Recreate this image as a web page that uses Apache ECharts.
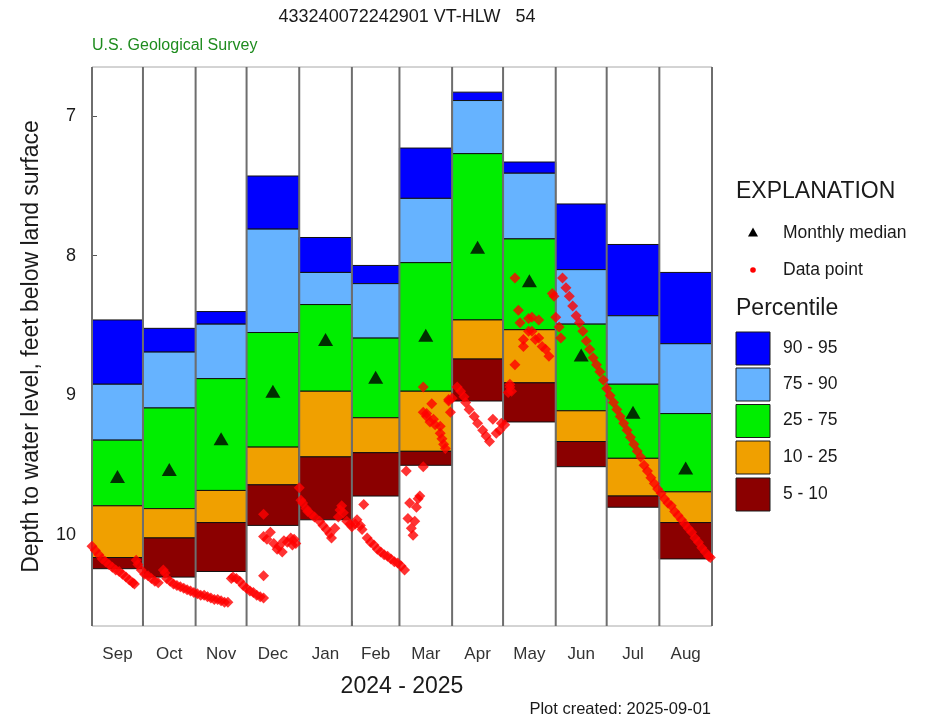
<!DOCTYPE html>
<html>
<head>
<meta charset="utf-8">
<script src="https://cdn.jsdelivr.net/npm/echarts@6/dist/echarts.min.js"></script>
<style>
  html, body { margin: 0; padding: 0; background: #ffffff; }
  #chart { width: 928px; height: 720px; }
</style>
</head>
<body>
<div id="chart"></div>
<script>
// Water year Sep 2024 - Aug 2025; x values are days since 2024-09-01.
const monthNames = ['Sep', 'Oct', 'Nov', 'Dec', 'Jan', 'Feb', 'Mar', 'Apr', 'May', 'Jun', 'Jul', 'Aug'];
const monthStartDay = [0, 30, 61, 91, 122, 153, 181, 212, 242, 273, 303, 334, 365];
const depthTicks = [7, 8, 9, 10];

// Historical monthly percentiles of depth to water (feet below land surface).
const p95 = [8.46, 8.52, 8.40, 7.43, 7.87, 8.07, 7.23, 6.83, 7.33, 7.63, 7.92, 8.12];
const p90 = [8.92, 8.69, 8.49, 7.81, 8.12, 8.20, 7.59, 6.89, 7.41, 8.10, 8.43, 8.63];
const p75 = [9.32, 9.09, 8.88, 8.55, 8.35, 8.59, 8.05, 7.27, 7.88, 8.49, 8.92, 9.13];
const p25 = [9.79, 9.81, 9.68, 9.37, 8.97, 9.16, 8.97, 8.46, 8.53, 9.11, 9.45, 9.69];
const p10 = [10.16, 10.02, 9.91, 9.64, 9.44, 9.41, 9.40, 8.74, 8.91, 9.33, 9.72, 9.91];
const p05 = [10.24, 10.30, 10.26, 9.93, 9.89, 9.72, 9.50, 9.04, 9.19, 9.51, 9.80, 10.17];
const monthlyMedian = [9.58, 9.53, 9.31, 8.97, 8.60, 8.87, 8.57, 7.94, 8.18, 8.71, 9.12, 9.52];

const bandLabels = ['90 - 95', '75 - 90', '25 - 75', '10 - 25', '5 - 10'];
const bandColors = ['#0000ff', '#66b3ff', '#00ee00', '#f0a000', '#8b0000'];

// Measured depth to water: [day since 2024-09-01, feet below land surface]
const waterLevelReadings = [
  [0, 10.08], [2, 10.11], [4, 10.14], [6, 10.17], [8, 10.19], [10, 10.21], [12, 10.23],
  [14, 10.25], [16, 10.26], [18, 10.28], [20, 10.30], [22, 10.32], [24, 10.34], [25, 10.35],
  [26, 10.18], [27, 10.21], [29, 10.25], [31, 10.28], [33, 10.29], [35, 10.31], [37, 10.33],
  [39, 10.34], [42, 10.25], [43, 10.27], [44, 10.31], [46, 10.33], [48, 10.35], [50, 10.36],
  [52, 10.37], [54, 10.38], [56, 10.39], [58, 10.40], [60, 10.41], [62, 10.42], [64, 10.43],
  [66, 10.43], [68, 10.44], [70, 10.45], [72, 10.46], [74, 10.46], [76, 10.47], [78, 10.48],
  [80, 10.48], [82, 10.31], [83, 10.30], [85, 10.31], [87, 10.33], [89, 10.36], [91, 10.38],
  [93, 10.40], [95, 10.41], [97, 10.43], [99, 10.44], [101, 10.45],
  [101, 9.85], [101, 10.29], [101, 10.01], [103, 10.03], [105, 9.98], [107, 10.06],
  [109, 10.10], [110, 10.08], [112, 10.12], [113, 10.04], [115, 10.05], [117, 10.02],
  [118, 10.07], [119, 10.03], [120, 10.06],
  [122, 9.66], [123, 9.75], [124, 9.77], [126, 9.81], [127, 9.83], [129, 9.85], [131, 9.87],
  [134, 9.90], [136, 9.93], [138, 9.96], [140, 9.99], [141, 10.02], [143, 9.95], [145, 9.87],
  [146, 9.82], [147, 9.79], [148, 9.84], [150, 9.90], [152, 9.92], [153, 9.94], [155, 9.92],
  [156, 9.89], [158, 9.93], [159, 9.96], [160, 9.78], [162, 10.02], [164, 10.05], [166, 10.07],
  [168, 10.10], [170, 10.12], [172, 10.14], [174, 10.15], [176, 10.17], [178, 10.19],
  [180, 10.20], [182, 10.22], [184, 10.25],
  [185, 9.54], [186, 9.88], [187, 9.77], [188, 9.95], [189, 10.00], [190, 9.90], [191, 9.80],
  [192, 9.74], [193, 9.72], [195, 9.51], [195, 8.94], [195, 9.12], [197, 9.13], [197, 9.15],
  [199, 9.19], [200, 9.06], [201, 9.17], [202, 9.21], [205, 9.22], [205, 9.27], [206, 9.31],
  [207, 9.35], [208, 9.38], [210, 9.03], [210, 9.04], [211, 9.12],
  [212, 9.02], [215, 8.94], [217, 8.97], [219, 9.01], [220, 9.05], [222, 9.10], [225, 9.15],
  [227, 9.20], [230, 9.25], [232, 9.29], [234, 9.33], [236, 9.17], [238, 9.27], [240, 9.25],
  [241, 9.20], [243, 9.21],
  [245, 8.98], [246, 8.92], [246, 8.94], [247, 8.97], [249, 8.78], [249, 8.16], [251, 8.39],
  [252, 8.48], [254, 8.60], [254, 8.65], [257, 8.54], [257, 8.45], [259, 8.44], [259, 8.54],
  [261, 8.60], [263, 8.46], [263, 8.59], [265, 8.65], [267, 8.67], [269, 8.72], [271, 8.27],
  [272, 8.29], [273, 8.44], [275, 8.51], [276, 8.59],
  [277, 8.16], [279, 8.23], [281, 8.29], [283, 8.36], [285, 8.43], [287, 8.48], [289, 8.54],
  [291, 8.61], [293, 8.67], [295, 8.73], [297, 8.78], [299, 8.83], [301, 8.89], [303, 8.95],
  [305, 9.00], [307, 9.05], [309, 9.10], [311, 9.15], [313, 9.20], [315, 9.25], [317, 9.30],
  [319, 9.35], [321, 9.40], [323, 9.44], [325, 9.50], [327, 9.54], [329, 9.59], [331, 9.63],
  [333, 9.67], [335, 9.70], [337, 9.74], [339, 9.77], [341, 9.79], [343, 9.83], [345, 9.86],
  [347, 9.89], [349, 9.92], [351, 9.95], [353, 9.98], [355, 10.02], [357, 10.05], [359, 10.09],
  [361, 10.12], [363, 10.15], [364, 10.16]
];

const monthMid = monthNames.map((m, i) => (monthStartDay[i] + monthStartDay[i + 1]) / 2);
const bandRows = monthNames.map((m, i) => [
  monthStartDay[i], monthStartDay[i + 1], p95[i], p90[i], p75[i], p25[i], p10[i], p05[i]
]);
const medianPoints = monthNames.map((m, i) => [monthMid[i], monthlyMedian[i]]);

const FONT = '"Liberation Sans", Arial, Helvetica, sans-serif';
const chart = echarts.init(document.getElementById('chart'), null, { renderer: 'canvas' });

// Legend (explanation) drawn as plain graphics on the right.
const legendX = 736;
const legendGraphics = [
  { type: 'text', left: legendX, top: 180, style: { text: 'EXPLANATION', font: '23px ' + FONT, fill: '#1a1a1a' } },
  { type: 'polygon', shape: { points: [[753, 227.5], [748, 236.5], [758, 236.5]] }, style: { fill: '#000' } },
  { type: 'text', left: 783, top: 224, style: { text: 'Monthly median', font: '17.5px ' + FONT, fill: '#1a1a1a' } },
  { type: 'circle', shape: { cx: 753, cy: 270, r: 2.8 }, style: { fill: '#ff0000' } },
  { type: 'text', left: 783, top: 261, style: { text: 'Data point', font: '17.5px ' + FONT, fill: '#1a1a1a' } },
  { type: 'text', left: legendX, top: 297, style: { text: 'Percentile', font: '23px ' + FONT, fill: '#1a1a1a' } }
];
const boxTops = [332, 368, 404.5, 441, 478];
bandLabels.forEach((lab, i) => {
  legendGraphics.push({
    type: 'rect', shape: { x: legendX, y: boxTops[i], width: 34, height: 33 },
    style: { fill: bandColors[i], stroke: '#1a1a1a', lineWidth: 1 }
  });
  legendGraphics.push({
    type: 'text', left: 783, top: boxTops[i] + 7,
    style: { text: lab, font: '17.5px ' + FONT, fill: '#1a1a1a' }
  });
});

const option = {
  backgroundColor: '#ffffff',
  animation: false,
  title: [
    {
      text: '433240072242901 VT-HLW   54',
      left: 402, top: 3, textAlign: 'center',
      textStyle: { fontFamily: FONT, fontSize: 18, fontWeight: 'normal', color: '#1a1a1a' }
    },
    {
      text: 'U.S. Geological Survey',
      left: 87, top: 33,
      textStyle: { fontFamily: FONT, fontSize: 16, fontWeight: 'normal', color: '#1e8c1e' }
    },
    {
      text: 'Plot created: 2025-09-01',
      right: 212, top: 696,
      textStyle: { fontFamily: FONT, fontSize: 16.5, fontWeight: 'normal', color: '#1a1a1a' }
    }
  ],
  grid: {
    left: 92, right: 216, top: 67, bottom: 94,
    show: true, borderColor: '#a8a8a8', borderWidth: 1, backgroundColor: '#ffffff'
  },
  xAxis: {
    type: 'value', min: 0, max: 365,
    name: '2024 - 2025', nameLocation: 'middle', nameGap: 49,
    nameTextStyle: { fontFamily: FONT, fontSize: 23, color: '#1a1a1a' },
    axisLine: { show: false },
    splitLine: { show: false },
    axisTick: { show: true, inside: true, length: 5, customValues: monthStartDay, lineStyle: { color: '#666' } },
    axisLabel: {
      customValues: monthMid, margin: 20,
      fontFamily: FONT, fontSize: 17, color: '#333',
      formatter: function (v) {
        const i = monthMid.findIndex(m => Math.abs(m - v) < 0.01);
        return i >= 0 ? monthNames[i] : '';
      }
    }
  },
  yAxis: {
    type: 'value', inverse: true, min: 6.65, max: 10.65,
    name: 'Depth to water level, feet below land surface',
    nameLocation: 'middle', nameGap: 49,
    nameTextStyle: { fontFamily: FONT, fontSize: 23, color: '#1a1a1a' },
    axisLine: { show: false },
    splitLine: { show: false },
    axisTick: { show: true, inside: true, length: 5, customValues: depthTicks, lineStyle: { color: '#555' } },
    axisLabel: { customValues: depthTicks, margin: 16, fontFamily: FONT, fontSize: 18, color: '#1a1a1a' }
  },
  graphic: legendGraphics,
  series: [
    {
      // Percentile bands for each month
      type: 'custom',
      data: bandRows,
      encode: { x: [0, 1], y: [2, 3, 4, 5, 6, 7] },
      z: 1,
      renderItem: function (params, api) {
        const x0 = api.value(0), x1 = api.value(1);
        const edges = [2, 3, 4, 5, 6, 7].map(k => api.value(k));
        const children = [];
        for (let b = 0; b < 5; b++) {
          const a = api.coord([x0, edges[b]]);
          const c = api.coord([x1, edges[b + 1]]);
          children.push({
            type: 'rect',
            shape: { x: a[0], y: a[1], width: c[0] - a[0], height: c[1] - a[1] },
            style: { fill: bandColors[b], stroke: '#111', lineWidth: 1 }
          });
        }
        return { type: 'group', children: children };
      }
    },
    {
      // Vertical month separators through the full plot height
      type: 'custom',
      data: monthStartDay.map(d => [d]),
      encode: { x: 0 },
      z: 2,
      renderItem: function (params, api) {
        const cs = params.coordSys;
        const x = api.coord([api.value(0), 8])[0];
        return {
          type: 'line',
          shape: { x1: x, y1: cs.y, x2: x, y2: cs.y + cs.height },
          style: { stroke: '#6e6e6e', lineWidth: 2 }
        };
      }
    },
    {
      name: 'Data point',
      type: 'scatter',
      data: waterLevelReadings,
      symbol: 'diamond',
      symbolSize: [11, 11],
      itemStyle: { color: '#ff0000' },
      z: 3,
      silent: true
    },
    {
      name: 'Monthly median',
      type: 'scatter',
      data: medianPoints,
      symbol: 'triangle',
      symbolSize: [15, 13],
      itemStyle: { color: '#000000' },
      z: 4,
      silent: true
    }
  ]
};
chart.setOption(option);
</script>
</body>
</html>
